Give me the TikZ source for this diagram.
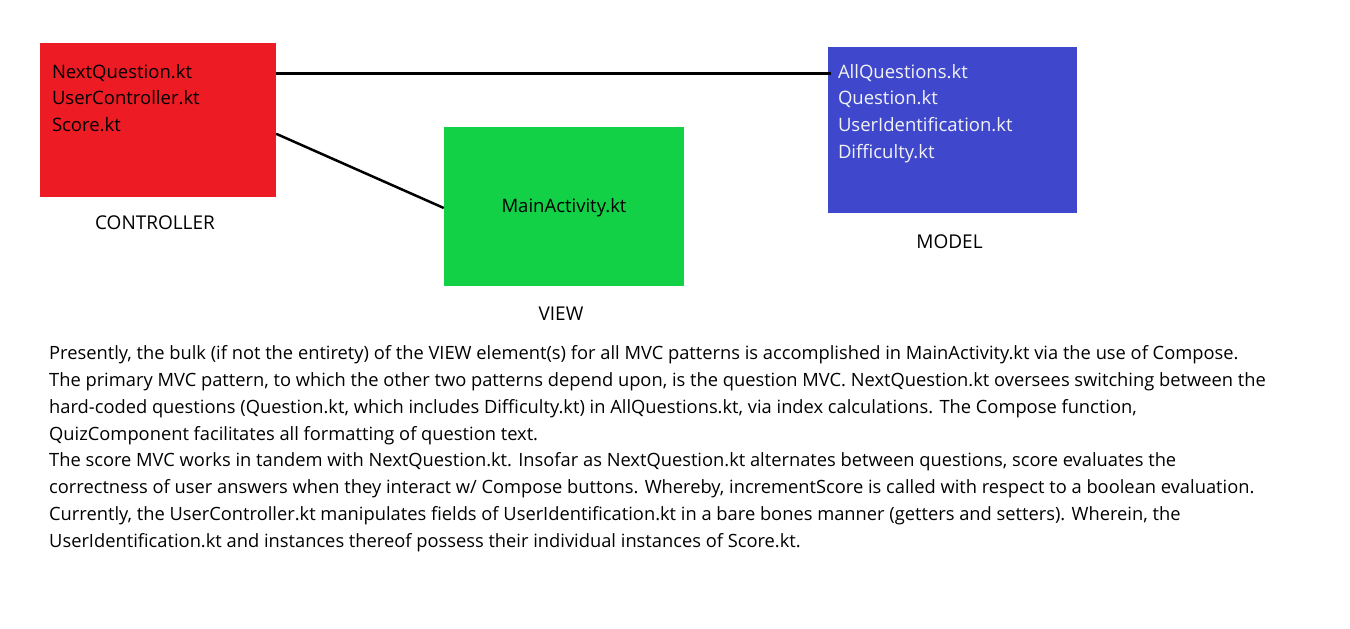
\documentclass[tikz,border=0pt]{standalone}
\usepackage{fontspec}
\setmainfont{Open Sans}
\usetikzlibrary{positioning}

\definecolor{ctrlred}{HTML}{ED1C24}
\definecolor{viewgreen}{HTML}{12D147}
\definecolor{modelblue}{HTML}{3F48CC}
\definecolor{lighttext}{HTML}{F2F2F2}

\tikzset{
  box/.style={rectangle, inner sep=0pt, draw=none},
  files/.style={inner sep=0pt, align=left, font=\fontsize{18.5}{26.7}\selectfont},
  caption/.style={inner sep=0pt, xshift=-3pt, font=\fontsize{19}{22}\selectfont},
  link/.style={line width=2.8pt},
  notes/.style={inner sep=0pt, align=left, font=\fontsize{18.3}{26.8}\selectfont}
}

\begin{document}
\begin{tikzpicture}[x=1pt, y=-1pt]
  \useasboundingbox (0,0) rectangle (1350,629);

  \node[box, fill=ctrlred, minimum width=236pt, minimum height=154pt]   (ctrl)  at (158,120) {};
  \node[box, fill=viewgreen, minimum width=240pt, minimum height=159pt] (view)  at (564,206.5) {};
  \node[box, fill=modelblue, minimum width=249pt, minimum height=166pt] (model) at (952.5,130) {};

  \node[files, anchor=north west] (ctrlfiles) at ([xshift=12pt, yshift=-21pt]ctrl.north west)
    {NextQuestion.kt\\UserController.kt\\Score.kt};
  \node[files, anchor=north west, text=lighttext] (modelfiles) at ([xshift=10pt, yshift=-17pt]model.north west)
    {AllQuestions.kt\\Question.kt\\UserIdentification.kt\\Difficulty.kt};
  \node[files] (viewfiles) at ([yshift=-1pt]view.center) {MainActivity.kt};

  \node[caption, below=18pt of ctrl]  (ctrllabel)  {CONTROLLER};
  \node[caption, below=21pt of view]  (viewlabel)  {VIEW};
  \node[caption, below=21pt of model] (modellabel) {MODEL};

  \draw[link] ([yshift=-31pt]ctrl.north east) -- ([xshift=3pt, yshift=-27pt]model.north west);
  \draw[link, line width=2.5pt] ([yshift=-91pt]ctrl.north east) -- ([yshift=-1.5pt]view.west);

  \node[notes, anchor=north west] (summary) at (49,345.5)
    {Presently, the bulk (if not the entirety) of the VIEW element(s) for all MVC patterns is accomplished in MainActivity.kt via the use of Compose.\\
     The primary MVC pattern, to which the other two patterns depend upon, is the question MVC. NextQuestion.kt oversees switching between the\\
     hard-coded questions (Question.kt, which includes Difficulty.kt) in AllQuestions.kt, via index calculations. The Compose function,\\
     QuizComponent facilitates all formatting of question text.\\
     The score MVC works in tandem with NextQuestion.kt. Insofar as NextQuestion.kt alternates between questions, score evaluates the\\
     correctness of user answers when they interact w/ Compose buttons. Whereby, incrementScore is called with respect to a boolean evaluation.\\
     Currently, the UserController.kt manipulates fields of UserIdentification.kt in a bare bones manner (getters and setters). Wherein, the\\
     UserIdentification.kt and instances thereof possess their individual instances of Score.kt.};
\end{tikzpicture}
\end{document}
